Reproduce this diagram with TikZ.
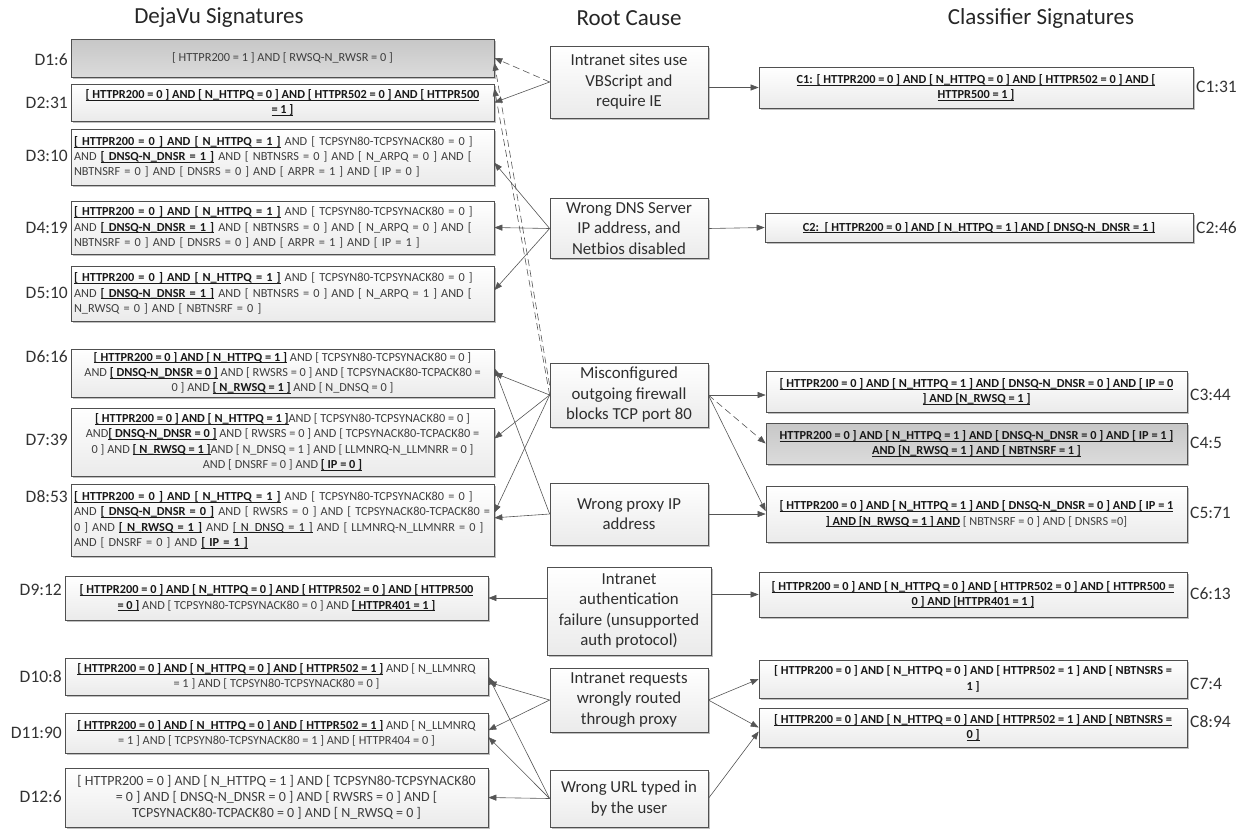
\documentclass[tikz,border=0pt]{standalone}
\usepackage{fontspec}
\setmainfont{Carlito}
\usetikzlibrary{arrows.meta,shadows,calc}
\definecolor{bordc}{RGB}{80,80,80}
\definecolor{txtc}{RGB}{62,62,62}
\definecolor{boldc}{RGB}{25,25,25}
\definecolor{linec}{RGB}{85,85,85}
\newcommand{\ulbox}[1]{\setbox0=\hbox{#1}\rlap{\rule[-1.9pt]{\wd0}{0.75pt}}\box0}
\newcommand{\ubf}[1]{{\color{boldc}\bfseries\ulbox{#1}}}
\newcommand{\ulo}[1]{{\color{boldc}\ulbox{#1}}}
\newcommand{\sigfont}{\fontsize{12.3}{15.3}\selectfont}
\newcommand{\sigfontb}{\fontsize{14}{16.2}\selectfont}
\newcommand{\rcfont}{\fontsize{16.8}{20.5}\selectfont}
\newcommand{\lblfont}{\fontsize{17.5}{20}\selectfont}
\newcommand{\hdfont}{\fontsize{23}{26}\selectfont}
\tikzset{
  box/.style={draw=bordc, line width=0.7pt, top color=white, bottom color=gray!16,
    text=txtc, inner sep=2pt, font=\sigfont, align=center,
    drop shadow={shadow xshift=1.5pt, shadow yshift=-1.5pt, opacity=0.25, fill=black}},
  lbox/.style={box, align=left, text width=417pt},
  greybox/.style={box, top color=gray!44, bottom color=gray!28},
  rcbox/.style={box, font=\rcfont, text=black!82, minimum width=158pt},
  lbl/.style={font=\lblfont, text=black!80, inner sep=1pt},
  hdr/.style={font=\hdfont, text=black!85},
  arr/.style={draw=linec, line width=0.6pt, -{Triangle[length=8pt,width=6pt]}},
  darr/.style={arr, dash pattern=on 7pt off 4pt},
}
\begin{document}
\begin{tikzpicture}[x=1pt,y=-1pt]
\useasboundingbox (0,0) rectangle (1244,831);
% headers
\node[hdr] (h1) at (219,18) {DejaVu Signatures};
\node[hdr] (h2) at (629,18) {Root Cause};
\node[hdr] (h3) at (1041,18) {Classifier Signatures};

% DejaVu signature boxes
\node[greybox, minimum width=423pt, minimum height=38pt] (D1) at (282.5,58)
  {[ HTTPR200 = 1 ] AND [ RWSQ-N\_RWSR = 0 ]};
\node[box, minimum width=423pt, minimum height=37pt] (D2) at (282.5,102.5)
  {\ubf{[ HTTPR200 = 0 ] AND [ N\_HTTPQ = 0 ] AND [ HTTPR502 = 0 ] AND [ HTTPR500}\\\ubf{= 1 ]}};
\node[lbox, minimum width=423pt, minimum height=56pt] (D3) at (282.5,157)
  {\ubf{[ HTTPR200 = 0 ] AND [ N\_HTTPQ = 1 ]} AND [ TCPSYN80-TCPSYNACK80 = 0 ]\\
   AND \ubf{[ DNSQ-N\_DNSR = 1 ]} AND [ NBTNSRS = 0 ] AND [ N\_ARPQ = 0 ] AND [\\
   NBTNSRF = 0 ] AND [ DNSRS = 0 ] AND [ ARPR = 1 ] AND [ IP = 0 ]};
\node[lbox, minimum width=423pt, minimum height=53pt] (D4) at (282.5,227.5)
  {\ubf{[ HTTPR200 = 0 ] AND [ N\_HTTPQ = 1 ]} AND [ TCPSYN80-TCPSYNACK80 = 0 ]\\
   AND \ubf{[ DNSQ-N\_DNSR = 1 ]} AND [ NBTNSRS = 0 ] AND [ N\_ARPQ = 0 ] AND [\\
   NBTNSRF = 0 ] AND [ DNSRS = 0 ] AND [ ARPR = 1 ] AND [ IP = 1 ]};
\node[lbox, minimum width=423pt, minimum height=55pt] (D5) at (282.5,293.5)
  {\ubf{[ HTTPR200 = 0 ] AND [ N\_HTTPQ = 1 ]} AND [ TCPSYN80-TCPSYNACK80 = 0 ]\\
   AND \ubf{[ DNSQ-N\_DNSR = 1 ]} AND [ NBTNSRS = 0 ] AND [ N\_ARPQ = 1 ] AND [\\
   N\_RWSQ = 0 ] AND [ NBTNSRF = 0 ]};
\node[box, minimum width=423pt, minimum height=48pt] (D6) at (282.5,373)
  {\ubf{[ HTTPR200 = 0 ] AND [ N\_HTTPQ = 1 ]} AND [ TCPSYN80-TCPSYNACK80 = 0 ]\\
   AND \ubf{[ DNSQ-N\_DNSR = 0 ]} AND [ RWSRS = 0 ] AND [ TCPSYNACK80-TCPACK80 =\\
   0 ] AND \ubf{[ N\_RWSQ = 1 ]} AND [ N\_DNSQ = 0 ]};
\node[box, minimum width=423pt, minimum height=68pt] (D7) at (282.5,442)
  {\ubf{[ HTTPR200 = 0 ] AND [ N\_HTTPQ = 1 ]}AND [ TCPSYN80-TCPSYNACK80 = 0 ]\\
   AND\ubf{[ DNSQ-N\_DNSR = 0 ]} AND [ RWSRS = 0 ] AND [ TCPSYNACK80-TCPACK80 =\\
   0 ] AND \ubf{[ N\_RWSQ = 1 ]}AND [ N\_DNSQ = 1 ] AND [ LLMNRQ-N\_LLMNRR = 0 ]\\
   AND [ DNSRF = 0 ] AND \ubf{[ IP = 0 ]}};
\node[lbox, minimum width=423pt, minimum height=72pt] (D8) at (282.5,520)
  {\ubf{[ HTTPR200 = 0 ] AND [ N\_HTTPQ = 1 ]} AND [ TCPSYN80-TCPSYNACK80 = 0 ]\\
   AND \ubf{[ DNSQ-N\_DNSR = 0 ]} AND [ RWSRS = 0 ] AND [ TCPSYNACK80-TCPACK80 =\\
   0 ] AND \ubf{[ N\_RWSQ = 1 ]} AND \ulo{[ N\_DNSQ = 1 ]} AND [ LLMNRQ-N\_LLMNRR = 0 ]\\
   AND [ DNSRF = 0 ] AND \ubf{[ IP = 1 ]}};
\node[box, minimum width=423pt, minimum height=44pt] (D9) at (276.5,598)
  {\ubf{[ HTTPR200 = 0 ] AND [ N\_HTTPQ = 0 ] AND [ HTTPR502 = 0 ] AND [ HTTPR500}\\
   \ubf{= 0 ]} AND [ TCPSYN80-TCPSYNACK80 = 0 ] AND \ubf{[ HTTPR401 = 1 ]}};
\node[box, minimum width=423pt, minimum height=37pt] (D10) at (276.5,676.5)
  {\ubf{[ HTTPR200 = 0 ] AND [ N\_HTTPQ = 0 ] AND [ HTTPR502 = 1 ]} AND [ N\_LLMNRQ\\
   = 1 ] AND [ TCPSYN80-TCPSYNACK80 = 0 ]};
\node[box, minimum width=423pt, minimum height=40pt] (D11) at (276.5,733)
  {\ubf{[ HTTPR200 = 0 ] AND [ N\_HTTPQ = 0 ] AND [ HTTPR502 = 1 ]} AND [ N\_LLMNRQ\\
   = 1 ] AND [ TCPSYN80-TCPSYNACK80 = 1 ] AND [ HTTPR404 = 0 ]};
\node[box, font=\sigfontb, minimum width=423pt, minimum height=59pt] (D12) at (276.5,797.5)
  {[ HTTPR200 = 0 ] AND [ N\_HTTPQ = 1 ] AND [ TCPSYN80-TCPSYNACK80\\
   = 0 ] AND [ DNSQ-N\_DNSR = 0 ] AND [ RWSRS = 0 ] AND [\\
   TCPSYNACK80-TCPACK80 = 0 ] AND [ N\_RWSQ = 0 ]};

% DejaVu labels
\node[lbl, anchor=east] (d1) at (69,60) {D1:6};
\node[lbl, anchor=east] (d2) at (69,103) {D2:31};
\node[lbl, anchor=east] (d3) at (69,156) {D3:10};
\node[lbl, anchor=east] (d4) at (69,228) {D4:19};
\node[lbl, anchor=east] (d5) at (69,293) {D5:10};
\node[lbl, anchor=east] (d6) at (69,357) {D6:16};
\node[lbl, anchor=east] (d7) at (69,440) {D7:39};
\node[lbl, anchor=east] (d8) at (69,497) {D8:53};
\node[lbl, anchor=east] (d9) at (63,590) {D9:12};
\node[lbl, anchor=east] (d10) at (63,677) {D10:8};
\node[lbl, anchor=east] (d11) at (63,733) {D11:90};
\node[lbl, anchor=east] (d12) at (63,797) {D12:6};

% Root cause boxes
\node[rcbox, minimum height=72pt] (R1) at (629,82) {Intranet sites use\\VBScript and\\require IE};
\node[rcbox, minimum height=60pt] (R2) at (629,228.5) {Wrong DNS Server\\IP address, and\\Netbios disabled};
\node[rcbox, minimum height=64pt] (R3) at (629,395) {Misconfigured\\outgoing firewall\\blocks TCP port 80};
\node[rcbox, minimum height=62pt] (R4) at (629,514) {Wrong proxy IP\\address};
\node[rcbox, minimum width=164pt, minimum height=88pt] (R5) at (629,611) {Intranet\\authentication\\failure (unsupported\\auth protocol)};
\node[rcbox, minimum height=64pt] (R6) at (629,700) {Intranet requests\\wrongly routed\\through proxy};
\node[rcbox, minimum height=57pt] (R7) at (629,798.5) {Wrong URL typed in\\by the user};

% Classifier boxes
\node[box, minimum width=434pt, minimum height=41pt] (C1) at (976,87.5)
  {\ubf{C1: [ HTTPR200 = 0 ] AND [ N\_HTTPQ = 0 ] AND [ HTTPR502 = 0 ] AND [}\\\ubf{HTTPR500 = 1 ]}};
\node[box, minimum width=428pt, minimum height=29pt] (C2) at (979,227.5)
  {\ubf{C2:\ \ [ HTTPR200 = 0 ] AND [ N\_HTTPQ = 1 ] AND [ DNSQ-N\_DNSR = 1 ]}};
\node[box, minimum width=421pt, minimum height=41pt] (C3) at (976.5,391.5)
  {\ubf{[ HTTPR200 = 0 ] AND [ N\_HTTPQ = 1 ] AND [ DNSQ-N\_DNSR = 0 ] AND [ IP = 0}\\\ubf{] AND [N\_RWSQ = 1 ]}};
\node[greybox, minimum width=421pt, minimum height=41pt] (C4) at (976.5,443.5)
  {\ubf{HTTPR200 = 0 ] AND [ N\_HTTPQ = 1 ] AND [ DNSQ-N\_DNSR = 0 ] AND [ IP = 1 ]}\\\ubf{AND [N\_RWSQ = 1 ] AND [ NBTNSRF = 1 ]}};
\node[box, minimum width=421pt, minimum height=56pt] (C5) at (976.5,514)
  {\ubf{[ HTTPR200 = 0 ] AND [ N\_HTTPQ = 1 ] AND [ DNSQ-N\_DNSR = 0 ] AND [ IP = 1}\\\ubf{] AND [N\_RWSQ = 1 ] AND} [ NBTNSRF = 0 ] AND [ DNSRS =0]};
\node[box, minimum width=428pt, minimum height=45pt] (C6) at (973,594.5)
  {\ubf{[ HTTPR200 = 0 ] AND [ N\_HTTPQ = 0 ] AND [ HTTPR502 = 0 ] AND [ HTTPR500 =}\\\ubf{0 ] AND [HTTPR401 = 1 ]}};
\node[box, minimum width=428pt, minimum height=38pt] (C7) at (973,679)
  {{\color{boldc}\bfseries [ HTTPR200 = 0 ] AND [ N\_HTTPQ = 0 ] AND [ HTTPR502 = 1 ] AND [ NBTNSRS =}\\{\color{boldc}\bfseries 1 ]}};
\node[box, minimum width=428pt, minimum height=39pt] (C8) at (973,727.5)
  {\ubf{[ HTTPR200 = 0 ] AND [ N\_HTTPQ = 0 ] AND [ HTTPR502 = 1 ] AND [ NBTNSRS =}\\\ubf{0 ]}};

% Classifier labels
\node[lbl, anchor=west] (c1) at (1195,87) {C1:31};
\node[lbl, anchor=west] (c2) at (1195,228) {C2:46};
\node[lbl, anchor=west] (c3) at (1189,395) {C3:44};
\node[lbl, anchor=west] (c4) at (1189,443) {C4:5};
\node[lbl, anchor=west] (c5) at (1189,513) {C5:71};
\node[lbl, anchor=west] (c6) at (1189,594) {C6:13};
\node[lbl, anchor=west] (c7) at (1189,684) {C7:4};
\node[lbl, anchor=west] (c8) at (1189,722) {C8:94};

% connectors: root cause -> DejaVu
\draw[darr] (R1.west) -- (D1.east);
\draw[arr] (R1.west) -- (D2.east);
\draw[darr] ($(R3.north west)!0.35!(R3.south west)$) -- ($(D1.north east)!0.62!(D1.south east)$);
\draw[darr] ($(R3.north west)!0.5!(R3.south west)$) -- ($(D2.north east)!0.12!(D2.south east)$);
\draw[arr] (R2.west) -- ($(D3.north east)!0.6!(D3.south east)$);
\draw[arr] (R2.west) -- (D4.east);
\draw[arr] (R2.west) -- ($(D5.north east)!0.44!(D5.south east)$);
\draw[arr] (R3.west) -- (D6.east);
\draw[arr] (R3.west) -- ($(D7.north east)!0.45!(D7.south east)$);
\draw[arr] (R3.west) -- ($(D8.north east)!0.4!(D8.south east)$);
\draw[arr] (R4.west) -- ($(D6.north east)!0.4!(D6.south east)$);
\draw[arr] (R4.west) -- ($(D8.north east)!0.47!(D8.south east)$);
\draw[arr] (R5.west |- D9.east) -- (D9.east);
\draw[arr] (R6.west) -- ($(D10.north east)!0.65!(D10.south east)$);
\draw[arr] (R6.west) -- ($(D11.north east)!0.43!(D11.south east)$);
\draw[arr] (R7.west) -- ($(D10.north east)!0.5!(D10.south east)$);
\draw[arr] (R7.west) -- ($(D11.north east)!0.6!(D11.south east)$);
\draw[arr] (R7.west) -- (D12.east);

% connectors: root cause -> classifier
\draw[arr] (R1.east |- C1.west) -- (C1.west);
\draw[arr] (R2.east) -- (C2.west);
\draw[arr] (R3.east) -- (R3.east -| C3.west);
\draw[darr] (R3.east) -- (C4.west);
\draw[arr] (R3.east) -- ($(C5.north west)!0.45!(C5.south west)$);
\draw[arr] (R4.east) -- (R4.east -| C5.west);
\draw[arr] (R5.east |- C6.west) -- (C6.west);
\draw[arr] (R6.east) -- (C7.west);
\draw[arr] (R6.east) -- ($(C8.north west)!0.5!(C8.south west)$);
\draw[arr] (R7.east) -- ($(C8.north west)!0.6!(C8.south west)$);
\end{tikzpicture}
\end{document}
